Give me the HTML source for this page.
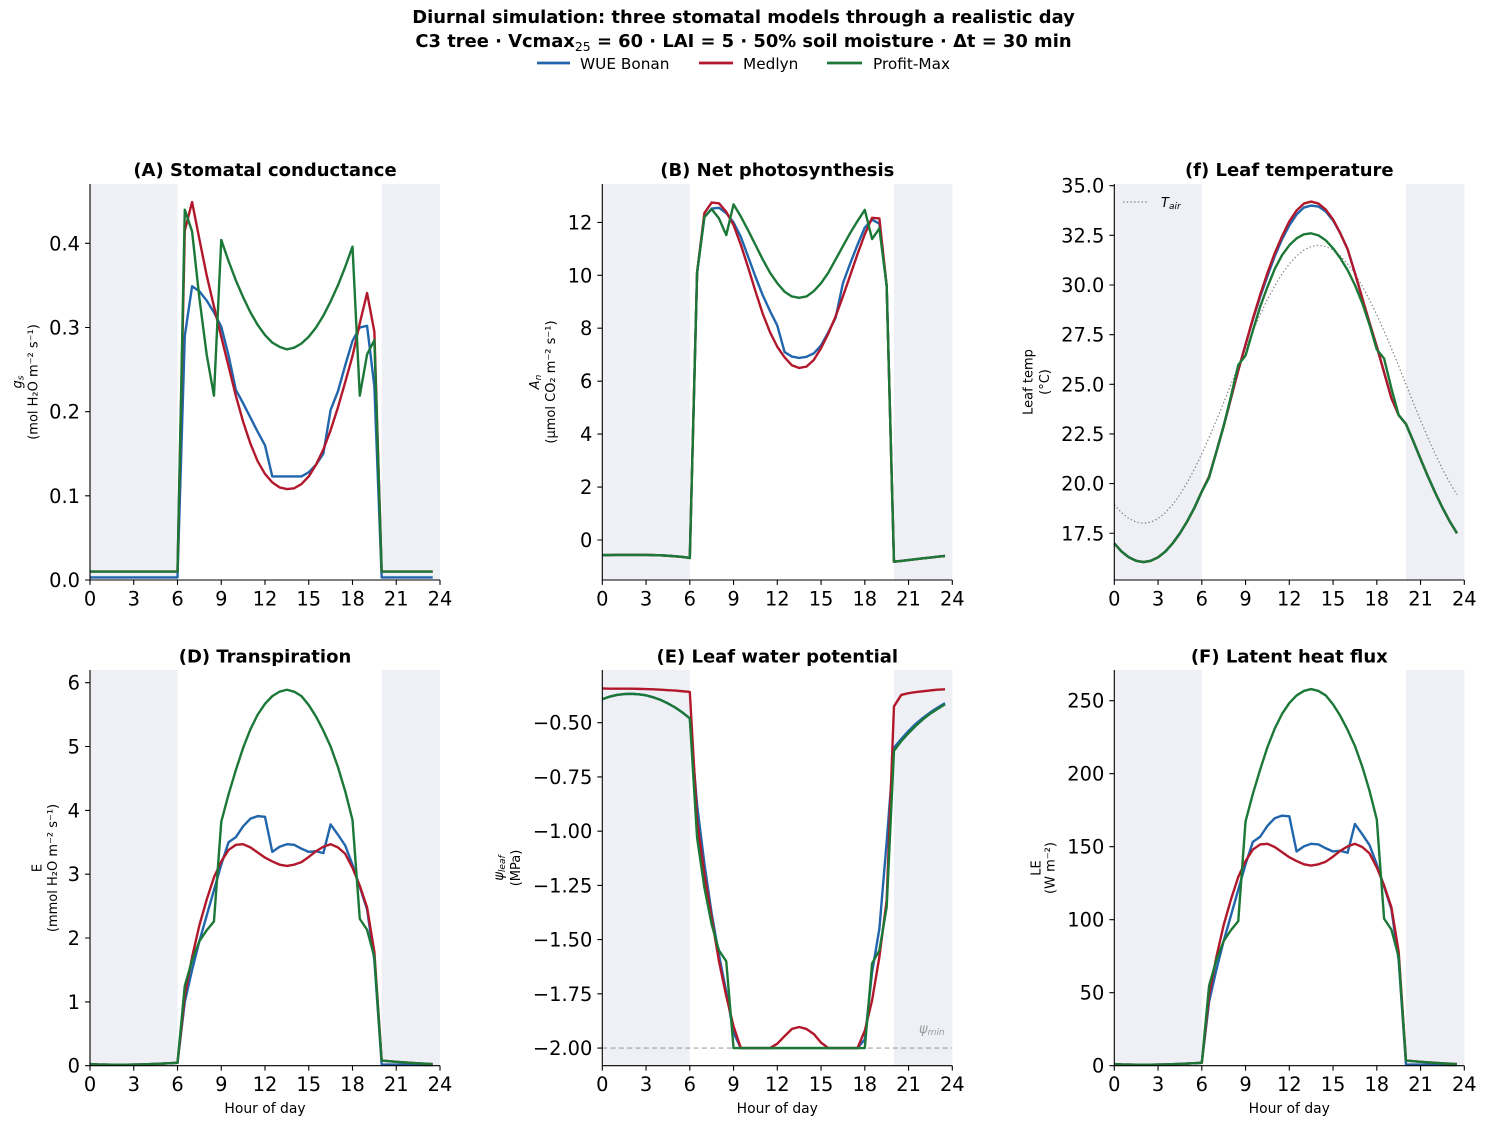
<!DOCTYPE html>
<html><head><meta charset="utf-8">
<style>
html,body{margin:0;padding:0;background:#fff;}
svg{display:block;font-family:"DejaVu Sans","Liberation Sans",sans-serif;}
.l{fill:none;stroke-width:2.4;vector-effect:non-scaling-stroke;stroke-linejoin:round;}
.b{stroke:#2166ac}.r{stroke:#b2182b}.g{stroke:#1b7837}
.sh{fill:#eef0f6}
.sp{stroke:#000;stroke-width:1.1;fill:none}
.tk{font-size:19.4px;fill:#000}
.ttl{font-size:18px;font-weight:bold;text-anchor:middle}
.yl{font-size:13px;text-anchor:middle}
.xl{font-size:13.9px;text-anchor:middle}
</style></head><body>
<svg width="1487" height="1125" viewBox="0 0 1487 1125" xmlns="http://www.w3.org/2000/svg">
<text x="743.5" y="23" text-anchor="middle" font-size="17.9" font-weight="bold">Diurnal simulation: three stomatal models through a realistic day</text>
<text x="743.5" y="47" text-anchor="middle" font-size="17.9" font-weight="bold">C3 tree · Vcmax<tspan font-size="12.5" font-weight="normal" dy="4">25</tspan><tspan dy="-4"> = 60 · LAI = 5 · 50% soil moisture · Δt = 30 min</tspan></text>
<line x1="537" y1="63" x2="570" y2="63" stroke="#2166ac" stroke-width="2.8"/>
<text x="580" y="69" font-size="15.3">WUE Bonan</text>
<line x1="699" y1="63" x2="733" y2="63" stroke="#b2182b" stroke-width="2.8"/>
<text x="743" y="69" font-size="15.3">Medlyn</text>
<line x1="827" y1="63" x2="862" y2="63" stroke="#1b7837" stroke-width="2.8"/>
<text x="873" y="69" font-size="15.3">Profit-Max</text>

<rect class="sh" x="90" y="184" width="87.5" height="396"/>
<rect class="sh" x="381.67" y="184" width="58.33" height="396"/>
<g transform="translate(90,580) scale(14.583,-841.7)">
<polyline class="l b" points="0,0.003 6,0.003 6.5,0.29 7,0.349 7.5,0.343 8,0.332 8.5,0.318 9,0.301 9.5,0.267 10,0.226 10.5,0.21 11,0.193 11.5,0.176 12,0.16 12.5,0.123 13,0.123 13.5,0.123 14,0.123 14.5,0.123 15,0.128 15.5,0.137 16,0.15 16.5,0.202 17,0.224 17.5,0.255 18,0.284 18.5,0.30 19,0.302 19.5,0.23 20,0.003 23.5,0.003"/>
<polyline class="l r" points="0,0.01 6,0.01 6.5,0.415 7,0.449 7.5,0.405 8,0.362 8.5,0.325 9,0.289 9.5,0.254 10,0.219 10.5,0.188 11,0.162 11.5,0.141 12,0.126 12.5,0.116 13,0.11 13.5,0.108 14,0.109 14.5,0.114 15,0.123 15.5,0.137 16,0.155 16.5,0.178 17,0.205 17.5,0.235 18,0.266 18.5,0.305 19,0.341 19.5,0.295 20,0.01 23.5,0.01"/>
<polyline class="l g" points="0,0.01 6,0.01 6.5,0.44 7,0.414 7.5,0.335 8,0.268 8.5,0.219 9,0.404 9.5,0.379 10,0.356 10.5,0.336 11,0.318 11.5,0.303 12,0.291 12.5,0.282 13,0.277 13.5,0.274 14,0.276 14.5,0.281 15,0.289 15.5,0.300 16,0.314 16.5,0.331 17,0.350 17.5,0.372 18,0.396 18.5,0.219 19,0.268 19.5,0.285 20,0.01 23.5,0.01"/>
</g>
<path class="sp" d="M90,184V580H440"/>
<path class="sp" d="M85.1,580H90M85.1,495.8H90M85.1,411.7H90M85.1,327.5H90M85.1,243.3H90"/>
<g class="tk" text-anchor="end">
<text x="80" y="587">0.0</text><text x="80" y="502.8">0.1</text><text x="80" y="418.7">0.2</text><text x="80" y="334.5">0.3</text><text x="80" y="250.3">0.4</text>
</g>
<path class="sp" d="M90,580v4.9M133.75,580v4.9M177.5,580v4.9M221.25,580v4.9M265,580v4.9M308.75,580v4.9M352.5,580v4.9M396.25,580v4.9M440,580v4.9"/>
<g class="tk" text-anchor="middle">
<text x="90" y="605.5">0</text><text x="133.75" y="605.5">3</text><text x="177.5" y="605.5">6</text><text x="221.25" y="605.5">9</text><text x="265" y="605.5">12</text><text x="308.75" y="605.5">15</text><text x="352.5" y="605.5">18</text><text x="396.25" y="605.5">21</text><text x="440" y="605.5">24</text>
</g>
<text class="ttl" x="265" y="176">(A) Stomatal conductance</text>
<text class="yl" transform="translate(21.5,382) rotate(-90)" font-style="italic">g<tspan font-size="9" dy="2">s</tspan></text>
<text class="yl" transform="translate(37.5,382) rotate(-90)">(mol H₂O m⁻² s⁻¹)</text>

<rect class="sh" x="602.3" y="184" width="87.5" height="396"/>
<rect class="sh" x="893.97" y="184" width="58.33" height="396"/>
<g transform="translate(602.3,540) scale(14.583,-26.47)">
<polyline class="l b" points="0,-0.57 0.5,-0.568 1,-0.566 1.5,-0.564 2,-0.563 2.5,-0.564 3,-0.566 3.5,-0.571 4,-0.58 4.5,-0.595 5,-0.615 5.5,-0.64 6,-0.68 6.5,10.1 7,12.2 7.5,12.52 8,12.55 8.5,12.35 9,12.0 9.5,11.45 10,10.7 10.5,9.95 11,9.25 11.5,8.65 12,8.1 12.5,7.1 13,6.93 13.5,6.88 14,6.92 14.5,7.05 15,7.35 15.5,7.85 16,8.4 16.5,9.7 17,10.45 17.5,11.15 18,11.8 18.5,12.1 19,11.95 19.5,9.6 20,-0.82 20.5,-0.789 21,-0.757 21.5,-0.726 22,-0.694 22.5,-0.663 23,-0.631 23.5,-0.6"/>
<polyline class="l r" points="0,-0.57 0.5,-0.568 1,-0.566 1.5,-0.564 2,-0.563 2.5,-0.564 3,-0.566 3.5,-0.571 4,-0.58 4.5,-0.595 5,-0.615 5.5,-0.64 6,-0.68 6.5,10.1 7,12.35 7.5,12.75 8,12.72 8.5,12.4 9,11.9 9.5,11.15 10,10.3 10.5,9.4 11,8.55 11.5,7.85 12,7.3 12.5,6.9 13,6.6 13.5,6.5 14,6.55 14.5,6.8 15,7.25 15.5,7.8 16,8.45 16.5,9.2 17,10.0 17.5,10.8 18,11.55 18.5,12.17 19,12.15 19.5,9.6 20,-0.82 20.5,-0.789 21,-0.757 21.5,-0.726 22,-0.694 22.5,-0.663 23,-0.631 23.5,-0.6"/>
<polyline class="l g" points="0,-0.57 0.5,-0.568 1,-0.566 1.5,-0.564 2,-0.563 2.5,-0.564 3,-0.566 3.5,-0.571 4,-0.58 4.5,-0.595 5,-0.615 5.5,-0.64 6,-0.68 6.5,10.1 7,12.2 7.5,12.5 8,12.15 8.5,11.52 9,12.68 9.5,12.22 10,11.7 10.5,11.15 11,10.6 11.5,10.1 12,9.7 12.5,9.38 13,9.2 13.5,9.15 14,9.2 14.5,9.4 15,9.7 15.5,10.1 16,10.6 16.5,11.1 17,11.6 17.5,12.05 18,12.47 18.5,11.37 19,11.77 19.5,9.6 20,-0.82 20.5,-0.789 21,-0.757 21.5,-0.726 22,-0.694 22.5,-0.663 23,-0.631 23.5,-0.6"/>
</g>
<path class="sp" d="M602.3,184V580H952.3"/>
<path class="sp" d="M597.4,540H602.3M597.4,487.1H602.3M597.4,434.1H602.3M597.4,381.2H602.3M597.4,328.2H602.3M597.4,275.3H602.3M597.4,222.4H602.3"/>
<g class="tk" text-anchor="end">
<text x="592.3" y="547">0</text><text x="592.3" y="494.1">2</text><text x="592.3" y="441.1">4</text><text x="592.3" y="388.2">6</text><text x="592.3" y="335.2">8</text><text x="592.3" y="282.3">10</text><text x="592.3" y="229.4">12</text>
</g>
<path class="sp" d="M602.3,580v4.9M646.05,580v4.9M689.8,580v4.9M733.55,580v4.9M777.3,580v4.9M821.05,580v4.9M864.8,580v4.9M908.55,580v4.9M952.3,580v4.9"/>
<g class="tk" text-anchor="middle">
<text x="602.3" y="605.5">0</text><text x="646.05" y="605.5">3</text><text x="689.8" y="605.5">6</text><text x="733.55" y="605.5">9</text><text x="777.3" y="605.5">12</text><text x="821.05" y="605.5">15</text><text x="864.8" y="605.5">18</text><text x="908.55" y="605.5">21</text><text x="952.3" y="605.5">24</text>
</g>
<text class="ttl" x="777.3" y="176">(B) Net photosynthesis</text>
<text class="yl" transform="translate(539,382) rotate(-90)" font-style="italic">A<tspan font-size="9" dy="2">n</tspan></text>
<text class="yl" transform="translate(555,382) rotate(-90)">(µmol CO₂ m⁻² s⁻¹)</text>

<rect class="sh" x="1114.3" y="184" width="87.5" height="396"/>
<rect class="sh" x="1405.97" y="184" width="58.33" height="396"/>
<polyline fill="none" stroke="#808080" stroke-width="1.2" stroke-dasharray="1.4 2.3" points="1114.3,504.69 1121.6,512.73 1128.9,518.57 1136.2,522.13 1143.5,523.32 1150.8,522.13 1158.0,518.57 1165.3,512.73 1172.6,504.69 1179.9,494.60 1187.2,482.61 1194.5,468.92 1201.8,453.81 1209.1,437.50 1216.4,420.29 1223.7,402.45 1231.0,384.3 1238.3,366.15 1245.5,348.31 1252.8,331.09 1260.1,314.79 1267.4,299.68 1274.7,285.99 1282.0,274.0 1289.3,263.91 1296.6,255.87 1303.9,250.03 1311.2,246.47 1318.5,245.28 1325.7,246.47 1333.0,250.03 1340.3,255.87 1347.6,263.91 1354.9,274.0 1362.2,285.99 1369.5,299.68 1376.8,314.79 1384.1,331.09 1391.4,348.31 1398.7,366.15 1406.0,384.3 1413.2,402.45 1420.5,420.29 1427.8,437.50 1435.1,453.81 1442.4,468.92 1449.7,482.61 1457.0,494.60"/>
<g transform="translate(1114.3,880.8) scale(14.583,-19.86)">
<polyline class="l b" points="0,16.99 0.5,16.58 1,16.29 1.5,16.11 2,16.05 2.5,16.11 3,16.29 3.5,16.58 4,16.99 4.5,17.5 5,18.1 5.5,18.79 6,19.6 6.5,20.35 7,21.6 7.5,22.9 8,24.3 8.5,25.7 9,27.0 9.5,28.25 10,29.4 10.5,30.45 11,31.45 11.5,32.3 12,33.0 12.5,33.55 13,33.9 13.5,34.0 14,33.95 14.5,33.7 15,33.25 15.5,32.6 16,31.8 16.5,30.6 17,29.35 17.5,28.1 18,26.9 18.5,25.6 19,24.3 19.5,23.45 20,23.0 20.5,22.14 21,21.24 21.5,20.37 22,19.55 22.5,18.79 23,18.1 23.5,17.5"/>
<polyline class="l r" points="0,16.99 0.5,16.58 1,16.29 1.5,16.11 2,16.05 2.5,16.11 3,16.29 3.5,16.58 4,16.99 4.5,17.5 5,18.1 5.5,18.79 6,19.6 6.5,20.35 7,21.6 7.5,22.9 8,24.3 8.5,25.7 9,27.0 9.5,28.3 10,29.5 10.5,30.6 11,31.6 11.5,32.45 12,33.2 12.5,33.75 13,34.1 13.5,34.2 14,34.1 14.5,33.8 15,33.3 15.5,32.6 16,31.8 16.5,30.6 17,29.35 17.5,28.1 18,26.9 18.5,25.6 19,24.3 19.5,23.45 20,23.0 20.5,22.14 21,21.24 21.5,20.37 22,19.55 22.5,18.79 23,18.1 23.5,17.5"/>
<polyline class="l g" points="0,16.99 0.5,16.58 1,16.29 1.5,16.11 2,16.05 2.5,16.11 3,16.29 3.5,16.58 4,16.99 4.5,17.5 5,18.1 5.5,18.79 6,19.6 6.5,20.3 7,21.6 7.5,22.9 8,24.4 8.5,25.97 9,26.45 9.5,27.7 10,28.9 10.5,29.9 11,30.8 11.5,31.5 12,32.0 12.5,32.35 13,32.55 13.5,32.6 14,32.5 14.5,32.25 15,31.85 15.5,31.35 16,30.75 16.5,30.0 17,29.1 17.5,28.0 18,26.75 18.5,26.3 19,24.8 19.5,23.45 20,23.0 20.5,22.14 21,21.24 21.5,20.37 22,19.55 22.5,18.79 23,18.1 23.5,17.5"/>
</g>
<line x1="1123" y1="202" x2="1148" y2="202" stroke="#808080" stroke-width="1.2" stroke-dasharray="1.4 2.3"/>
<text x="1161" y="207" font-size="13" font-style="italic">T<tspan font-size="9" dy="2">air</tspan></text>
<path class="sp" d="M1114.3,184V580H1464.3"/>
<path class="sp" d="M1109.4,533.25H1114.3M1109.4,483.6H1114.3M1109.4,433.95H1114.3M1109.4,384.3H1114.3M1109.4,334.65H1114.3M1109.4,285H1114.3M1109.4,235.35H1114.3M1109.4,185.7H1114.3"/>
<g class="tk" text-anchor="end">
<text x="1104.3" y="540.25">17.5</text><text x="1104.3" y="490.6">20.0</text><text x="1104.3" y="440.95">22.5</text><text x="1104.3" y="391.3">25.0</text><text x="1104.3" y="341.65">27.5</text><text x="1104.3" y="292">30.0</text><text x="1104.3" y="242.35">32.5</text><text x="1104.3" y="192.7">35.0</text>
</g>
<path class="sp" d="M1114.3,580v4.9M1158.05,580v4.9M1201.8,580v4.9M1245.55,580v4.9M1289.3,580v4.9M1333.05,580v4.9M1376.8,580v4.9M1420.55,580v4.9M1464.3,580v4.9"/>
<g class="tk" text-anchor="middle">
<text x="1114.3" y="605.5">0</text><text x="1158.05" y="605.5">3</text><text x="1201.8" y="605.5">6</text><text x="1245.55" y="605.5">9</text><text x="1289.3" y="605.5">12</text><text x="1333.05" y="605.5">15</text><text x="1376.8" y="605.5">18</text><text x="1420.55" y="605.5">21</text><text x="1464.3" y="605.5">24</text>
</g>
<text class="ttl" x="1289.3" y="176">(f) Leaf temperature</text>
<text class="yl" transform="translate(1032.5,382) rotate(-90)">Leaf temp</text>
<text class="yl" transform="translate(1049,382) rotate(-90)">(°C)</text>

<rect class="sh" x="90" y="670" width="87.5" height="395.7"/>
<rect class="sh" x="381.67" y="670" width="58.33" height="395.7"/>
<g transform="translate(90,1065.7) scale(14.583,-63.83)">
<polyline class="l b" points="0,0.025 0.5,0.02 1,0.018 1.5,0.016 2,0.015 2.5,0.016 3,0.018 3.5,0.02 4,0.024 4.5,0.028 5,0.033 5.5,0.039 6,0.045 6.5,1.0 7,1.5 7.5,1.95 8,2.35 8.5,2.75 9,3.15 9.5,3.5 10,3.58 10.5,3.75 11,3.87 11.5,3.91 12,3.9 12.5,3.35 13,3.43 13.5,3.47 14,3.46 14.5,3.4 15,3.35 15.5,3.36 16,3.33 16.5,3.78 17,3.62 17.5,3.45 18,3.15 18.5,2.8 19,2.45 19.5,1.65 20,0.02 21,0.017 22,0.014 23.5,0.01"/>
<polyline class="l r" points="0,0.025 0.5,0.02 1,0.018 1.5,0.016 2,0.015 2.5,0.016 3,0.018 3.5,0.02 4,0.024 4.5,0.028 5,0.033 5.5,0.039 6,0.045 6.5,1.1 7,1.7 7.5,2.2 8,2.6 8.5,2.95 9,3.2 9.5,3.38 10,3.46 10.5,3.47 11,3.42 11.5,3.34 12,3.26 12.5,3.2 13,3.15 13.5,3.13 14,3.15 14.5,3.19 15,3.27 15.5,3.36 16,3.43 16.5,3.47 17,3.42 17.5,3.32 18,3.1 18.5,2.82 19,2.48 19.5,1.78 20,0.08 20.5,0.07 21,0.061 21.5,0.053 22,0.045 22.5,0.038 23,0.031 23.5,0.025"/>
<polyline class="l g" points="0,0.025 0.5,0.02 1,0.018 1.5,0.016 2,0.015 2.5,0.016 3,0.018 3.5,0.02 4,0.024 4.5,0.028 5,0.033 5.5,0.039 6,0.045 6.5,1.25 7,1.65 7.5,1.95 8,2.12 8.5,2.26 9,3.82 9.5,4.25 10,4.63 10.5,4.98 11,5.27 11.5,5.5 12,5.67 12.5,5.79 13,5.86 13.5,5.89 14,5.86 14.5,5.79 15,5.65 15.5,5.47 16,5.25 16.5,5.0 17,4.68 17.5,4.3 18,3.85 18.5,2.3 19,2.13 19.5,1.7 20,0.08 20.5,0.07 21,0.061 21.5,0.053 22,0.045 22.5,0.038 23,0.031 23.5,0.025"/>
</g>
<path class="sp" d="M90,670V1065.7H440"/>
<path class="sp" d="M85.1,1065.7H90M85.1,1001.9H90M85.1,938H90M85.1,874.2H90M85.1,810.4H90M85.1,746.5H90M85.1,682.7H90"/>
<g class="tk" text-anchor="end">
<text x="80" y="1072.7">0</text><text x="80" y="1008.9">1</text><text x="80" y="945">2</text><text x="80" y="881.2">3</text><text x="80" y="817.4">4</text><text x="80" y="753.5">5</text><text x="80" y="689.7">6</text>
</g>
<path class="sp" d="M90,1065.7v4.9M133.75,1065.7v4.9M177.5,1065.7v4.9M221.25,1065.7v4.9M265,1065.7v4.9M308.75,1065.7v4.9M352.5,1065.7v4.9M396.25,1065.7v4.9M440,1065.7v4.9"/>
<g class="tk" text-anchor="middle">
<text x="90" y="1091">0</text><text x="133.75" y="1091">3</text><text x="177.5" y="1091">6</text><text x="221.25" y="1091">9</text><text x="265" y="1091">12</text><text x="308.75" y="1091">15</text><text x="352.5" y="1091">18</text><text x="396.25" y="1091">21</text><text x="440" y="1091">24</text>
</g>
<text class="ttl" x="265" y="662.5">(D) Transpiration</text>
<text class="yl" transform="translate(41.5,868) rotate(-90)">E</text>
<text class="yl" transform="translate(57,868) rotate(-90)">(mmol H₂O m⁻² s⁻¹)</text>
<text class="xl" x="265" y="1113">Hour of day</text>

<rect class="sh" x="602.3" y="670" width="87.5" height="395.7"/>
<rect class="sh" x="893.97" y="670" width="58.33" height="395.7"/>
<line x1="602.3" y1="1048.05" x2="952.3" y2="1048.05" stroke="#a0a0a0" stroke-width="1.2" stroke-dasharray="5 3.3"/>
<g transform="translate(602.3,614.25) scale(14.583,-216.9)">
<polyline class="l b" points="0,-0.392 0.5,-0.38 1,-0.372 1.5,-0.368 2,-0.367 2.5,-0.369 3,-0.374 3.5,-0.383 4,-0.395 4.5,-0.411 5,-0.43 5.5,-0.453 6,-0.48 6.5,-0.88 7,-1.15 7.5,-1.38 8,-1.57 8.5,-1.74 9,-1.93 9.5,-2.0 17.5,-2.0 18,-1.96 18.5,-1.65 19,-1.45 19.5,-1.05 20,-0.615 20.5,-0.575 21,-0.538 21.5,-0.505 22,-0.477 22.5,-0.452 23,-0.43 23.5,-0.41"/>
<polyline class="l r" points="0,-0.342 0.5,-0.343 1,-0.343 1.5,-0.343 2,-0.343 2.5,-0.344 3,-0.345 3.5,-0.346 4,-0.348 4.5,-0.35 5,-0.352 5.5,-0.355 6,-0.358 6.5,-0.95 7,-1.2 7.5,-1.4 8,-1.6 8.5,-1.76 9,-1.9 9.5,-2.0 10,-2.0 10.5,-2.0 11,-2.0 11.5,-2.0 12,-1.98 12.5,-1.945 13,-1.912 13.5,-1.903 14,-1.912 14.5,-1.935 15,-1.975 15.5,-2.0 16,-2.0 16.5,-2.0 17,-2.0 17.5,-2.0 18,-1.92 18.5,-1.78 19,-1.58 19.5,-1.32 20,-0.425 20.5,-0.372 21,-0.364 21.5,-0.359 22,-0.355 22.5,-0.351 23,-0.348 23.5,-0.346"/>
<polyline class="l g" points="0,-0.392 0.5,-0.38 1,-0.372 1.5,-0.368 2,-0.367 2.5,-0.369 3,-0.374 3.5,-0.383 4,-0.395 4.5,-0.411 5,-0.43 5.5,-0.453 6,-0.48 6.5,-1.03 7,-1.26 7.5,-1.43 8,-1.55 8.5,-1.6 9,-2.0 18,-2.0 18.5,-1.61 19,-1.55 19.5,-1.35 20,-0.63 20.5,-0.585 21,-0.548 21.5,-0.514 22,-0.484 22.5,-0.458 23,-0.436 23.5,-0.415"/>
</g>
<text x="919" y="1033" font-size="13" font-style="italic" fill="#999">ψ<tspan font-size="9" dy="2">min</tspan></text>
<path class="sp" d="M602.3,670V1065.7H952.3"/>
<path class="sp" d="M597.4,722.7H602.3M597.4,776.9H602.3M597.4,831.2H602.3M597.4,885.4H602.3M597.4,939.6H602.3M597.4,993.8H602.3M597.4,1048.05H602.3"/>
<g class="tk" text-anchor="end">
<text x="592.3" y="729.7">−0.50</text><text x="592.3" y="783.9">−0.75</text><text x="592.3" y="838.2">−1.00</text><text x="592.3" y="892.4">−1.25</text><text x="592.3" y="946.6">−1.50</text><text x="592.3" y="1000.8">−1.75</text><text x="592.3" y="1055">−2.00</text>
</g>
<path class="sp" d="M602.3,1065.7v4.9M646.05,1065.7v4.9M689.8,1065.7v4.9M733.55,1065.7v4.9M777.3,1065.7v4.9M821.05,1065.7v4.9M864.8,1065.7v4.9M908.55,1065.7v4.9M952.3,1065.7v4.9"/>
<g class="tk" text-anchor="middle">
<text x="602.3" y="1091">0</text><text x="646.05" y="1091">3</text><text x="689.8" y="1091">6</text><text x="733.55" y="1091">9</text><text x="777.3" y="1091">12</text><text x="821.05" y="1091">15</text><text x="864.8" y="1091">18</text><text x="908.55" y="1091">21</text><text x="952.3" y="1091">24</text>
</g>
<text class="ttl" x="777.3" y="662.5">(E) Leaf water potential</text>
<text class="yl" transform="translate(503,868) rotate(-90)" font-style="italic">ψ<tspan font-size="9" dy="2">leaf</tspan></text>
<text class="yl" transform="translate(520,868) rotate(-90)">(MPa)</text>
<text class="xl" x="777.3" y="1113">Hour of day</text>

<rect class="sh" x="1114.3" y="670" width="87.5" height="395.7"/>
<rect class="sh" x="1405.97" y="670" width="58.33" height="395.7"/>
<g transform="translate(1114.3,1065.7) scale(14.583,-63.95)">
<polyline class="l b" points="0,0.025 0.5,0.02 1,0.018 1.5,0.016 2,0.015 2.5,0.016 3,0.018 3.5,0.02 4,0.024 4.5,0.028 5,0.033 5.5,0.039 6,0.045 6.5,1.0 7,1.5 7.5,1.95 8,2.35 8.5,2.75 9,3.15 9.5,3.5 10,3.58 10.5,3.75 11,3.87 11.5,3.91 12,3.9 12.5,3.35 13,3.43 13.5,3.47 14,3.46 14.5,3.4 15,3.35 15.5,3.36 16,3.33 16.5,3.78 17,3.62 17.5,3.45 18,3.15 18.5,2.8 19,2.45 19.5,1.65 20,0.02 21,0.017 22,0.014 23.5,0.01"/>
<polyline class="l r" points="0,0.025 0.5,0.02 1,0.018 1.5,0.016 2,0.015 2.5,0.016 3,0.018 3.5,0.02 4,0.024 4.5,0.028 5,0.033 5.5,0.039 6,0.045 6.5,1.1 7,1.7 7.5,2.2 8,2.6 8.5,2.95 9,3.2 9.5,3.38 10,3.46 10.5,3.47 11,3.42 11.5,3.34 12,3.26 12.5,3.2 13,3.15 13.5,3.13 14,3.15 14.5,3.19 15,3.27 15.5,3.36 16,3.43 16.5,3.47 17,3.42 17.5,3.32 18,3.1 18.5,2.82 19,2.48 19.5,1.78 20,0.08 20.5,0.07 21,0.061 21.5,0.053 22,0.045 22.5,0.038 23,0.031 23.5,0.025"/>
<polyline class="l g" points="0,0.025 0.5,0.02 1,0.018 1.5,0.016 2,0.015 2.5,0.016 3,0.018 3.5,0.02 4,0.024 4.5,0.028 5,0.033 5.5,0.039 6,0.045 6.5,1.25 7,1.65 7.5,1.95 8,2.12 8.5,2.26 9,3.82 9.5,4.25 10,4.63 10.5,4.98 11,5.27 11.5,5.5 12,5.67 12.5,5.79 13,5.86 13.5,5.89 14,5.86 14.5,5.79 15,5.65 15.5,5.47 16,5.25 16.5,5.0 17,4.68 17.5,4.3 18,3.85 18.5,2.3 19,2.13 19.5,1.7 20,0.08 20.5,0.07 21,0.061 21.5,0.053 22,0.045 22.5,0.038 23,0.031 23.5,0.025"/>
</g>
<path class="sp" d="M1114.3,670V1065.7H1464.3"/>
<path class="sp" d="M1109.4,1065.7H1114.3M1109.4,992.7H1114.3M1109.4,919.7H1114.3M1109.4,846.7H1114.3M1109.4,773.7H1114.3M1109.4,700.7H1114.3"/>
<g class="tk" text-anchor="end">
<text x="1104.3" y="1072.7">0</text><text x="1104.3" y="999.7">50</text><text x="1104.3" y="926.7">100</text><text x="1104.3" y="853.7">150</text><text x="1104.3" y="780.7">200</text><text x="1104.3" y="707.7">250</text>
</g>
<path class="sp" d="M1114.3,1065.7v4.9M1158.05,1065.7v4.9M1201.8,1065.7v4.9M1245.55,1065.7v4.9M1289.3,1065.7v4.9M1333.05,1065.7v4.9M1376.8,1065.7v4.9M1420.55,1065.7v4.9M1464.3,1065.7v4.9"/>
<g class="tk" text-anchor="middle">
<text x="1114.3" y="1091">0</text><text x="1158.05" y="1091">3</text><text x="1201.8" y="1091">6</text><text x="1245.55" y="1091">9</text><text x="1289.3" y="1091">12</text><text x="1333.05" y="1091">15</text><text x="1376.8" y="1091">18</text><text x="1420.55" y="1091">21</text><text x="1464.3" y="1091">24</text>
</g>
<text class="ttl" x="1289.3" y="662.5">(F) Latent heat flux</text>
<text class="yl" transform="translate(1040.5,868) rotate(-90)">LE</text>
<text class="yl" transform="translate(1054.5,868) rotate(-90)">(W m⁻²)</text>
<text class="xl" x="1289.3" y="1113">Hour of day</text>
</svg>
</body></html>
